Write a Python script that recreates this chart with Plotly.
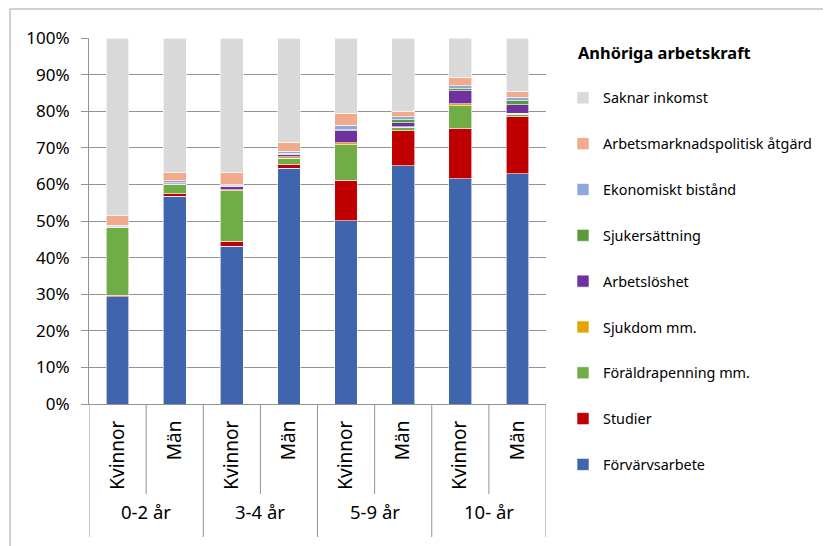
import plotly.graph_objects as go

groups = ["0-2 år", "3-4 år", "5-9 år", "10- år"]
sexes = ["Kvinnor", "Män"]

# andel (%) per kategori, ordning: 0-2 K, 0-2 M, 3-4 K, 3-4 M, 5-9 K, 5-9 M, 10- K, 10- M
forvarvsarbete = [29.3, 56.8, 43.1, 64.4, 50.1, 65.1, 61.5, 62.9]
studier = [0.4, 0.6, 1.4, 1.1, 11.0, 9.6, 13.9, 15.6]
foraldrapenning = [18.4, 2.7, 13.7, 1.7, 9.7, 0.9, 6.1, 0.7]
sjukdom = [0.1, 0.1, 0.3, 0.3, 0.6, 0.1, 0.5, 0.2]
arbetsloshet = [0.1, 0.2, 1.0, 0.8, 3.2, 1.2, 3.6, 2.4]
sjukersattning = [0.1, 0.1, 0.1, 0.2, 0.3, 0.7, 0.6, 1.1]
ekonomiskt_bistand = [0.5, 0.5, 0.3, 0.5, 1.2, 0.9, 0.7, 0.9]
ampa = [2.5, 2.3, 3.4, 2.5, 3.4, 1.4, 2.4, 1.6]
saknar_inkomst = [48.6, 36.7, 36.7, 28.5, 20.5, 20.1, 10.7, 14.6]

series = [
    ("Förvärvsarbete", forvarvsarbete, "#3E65AE"),
    ("Studier", studier, "#C00000"),
    ("Föräldrapenning mm.", foraldrapenning, "#70AD47"),
    ("Sjukdom mm.", sjukdom, "#E3A600"),
    ("Arbetslöshet", arbetsloshet, "#7030A0"),
    ("Sjukersättning", sjukersattning, "#5B9A3C"),
    ("Ekonomiskt bistånd", ekonomiskt_bistand, "#8FA8DA"),
    ("Arbetsmarknadspolitisk åtgärd", ampa, "#F2AA8D"),
    ("Saknar inkomst", saknar_inkomst, "#D9D9D9"),
]

keys = [g + "|" + s for g in groups for s in sexes]
sublabels = [s for g in groups for s in sexes]

# sidans koordinater (px); sidan har 8px marginal runt figuren
W, H, OFF = 831, 546, 8
L, R, T, B = 89, 546, 38, 404
FONT = "Noto Sans"
GRID = "#939393"


def px_x(p):
    return (p - L) / (R - L)


def px_y(p):
    return (B - p) / (B - T)


fig = go.Figure()
for i, (name, vals, col) in enumerate(series):
    fig.add_trace(go.Bar(
        x=keys, y=[v / 100 for v in vals], name=name,
        legendgroup=str(i), legendrank=100 - i,
        marker=dict(color=col, line=dict(color="white", width=0.6)),
    ))

shapes = []
# avdelare under x-axeln
n = len(keys)
for i in range(n + 1):
    is_group = i % len(sexes) == 0
    shapes.append(dict(
        type="line", xref="x", yref="paper", x0=i - 0.5, x1=i - 0.5,
        y0=0, y1=px_y(537 if is_group else 494),
        line=dict(color=GRID, width=1),
    ))
# diagramramen
shapes.append(dict(
    type="rect", xref="paper", yref="paper",
    x0=px_x(10), x1=px_x(900), y0=px_y(600), y1=px_y(9),
    line=dict(color="#A0A0A0", width=1), layer="below",
))

annotations = []
for gi, g in enumerate(groups):
    annotations.append(dict(
        x=gi * len(sexes) + (len(sexes) - 1) / 2, xref="x",
        y=px_y(512), yref="paper", yanchor="middle", text=g, showarrow=False,
        font=dict(family=FONT, size=18.5, color="black"),
    ))
annotations.append(dict(
    x=px_x(576), xref="paper", xanchor="left",
    y=px_y(52), yref="paper", yanchor="middle",
    text="<b>Anhöriga arbetskraft</b>", showarrow=False,
    font=dict(family=FONT, size=16.4, color="black"),
))

fig.update_layout(
    width=W - OFF, height=H - OFF,
    margin=dict(l=L - OFF, r=W - R, t=T - OFF, b=H - B),
    paper_bgcolor="white", plot_bgcolor="white",
    barmode="stack", bargap=0.6,
    font=dict(family=FONT, size=15, color="black"),
    shapes=shapes, annotations=annotations,
    legend=dict(
        traceorder="grouped", tracegroupgap=24.1, maxheight=490,
        x=px_x(563), xanchor="left", y=px_y(82), yanchor="top",
        font=dict(size=14.4), itemclick=False,
    ),
    xaxis=dict(
        type="category", tickvals=keys, ticktext=sublabels, tickangle=-90,
        showgrid=False, showline=True, linecolor=GRID, ticks="",
        range=[-0.5, n - 0.5], tickfont=dict(size=19), ticklabelstandoff=8,
    ),
    yaxis=dict(
        range=[0, 1], dtick=0.1, tickformat=".0%",
        showgrid=True, gridcolor=GRID, gridwidth=1,
        showline=True, linecolor=GRID, ticks="outside", ticklen=7,
        tickcolor=GRID, zeroline=False, tickfont=dict(size=17),
        ticklabelstandoff=8,
    ),
)

fig.write_html("out.html")
